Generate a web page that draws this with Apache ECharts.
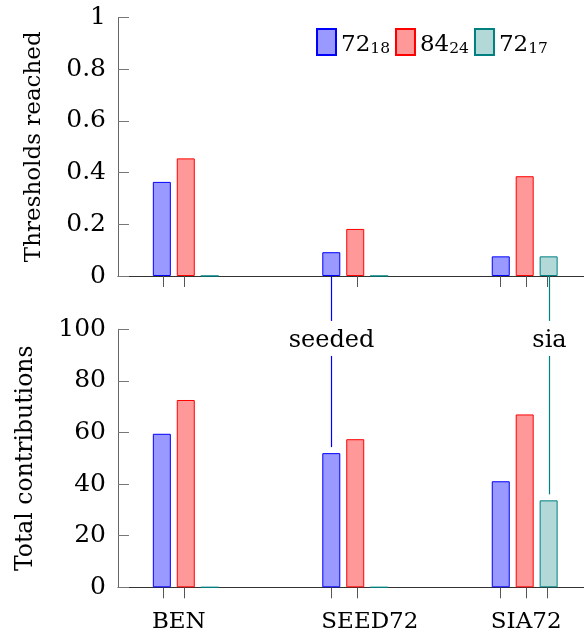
<!DOCTYPE html>
<html>
<head>
<meta charset="utf-8">
<script src="https://cdn.jsdelivr.net/npm/echarts@6/dist/echarts.min.js"></script>
<style>
html,body{margin:0;padding:0;background:#fff;}
#main{width:584px;height:634px;}
</style>
</head>
<body>
<div id="main"></div>
<script>
// ---- data ----
const categories = ['BEN', 'SEED72', 'SIA72'];
const seriesNames = ['72_18', '84_24', '72_17'];
const thresholds72_18 = [0.364, 0.092, 0.076];
const thresholds84_24 = [0.455, 0.182, 0.386];
const thresholds72_17 = [0, 0, 0.076];
const contrib72_18 = [59.5, 52.0, 41.1];
const contrib84_24 = [72.6, 57.4, 67.0];
const contrib72_17 = [0, 0, 33.7];
const xTickValues = [-0.133, -0.011, 0.857, 1.009, 1.858, 2.008, 2.136];
const annotLabels = ['seeded', 'sia'];
const annotSeries = [0, 2];
const annotCategory = [1, 2];
const annotLevel = 95.5;

// ---- styles ----
const FONT = '"DejaVu Serif", serif';
const fills = ['#9999ff', '#ff9999', '#b2d8d8'];
const borders = ['#0000ff', '#ff0000', '#008080'];
const labelShift = -0.2;

const topData = [thresholds72_18, thresholds84_24, thresholds72_17];
const botData = [contrib72_18, contrib84_24, contrib72_17];

function mkSeries(values, i, gi) {
  return {
    type: 'bar',
    name: seriesNames[i],
    xAxisIndex: gi, yAxisIndex: gi,
    barWidth: 18, barGap: '33%',
    data: values.map((v, k) => [k, v]),
    itemStyle: {color: fills[i], borderColor: borders[i], borderWidth: 1},
    emphasis: {disabled: true},
    animation: false
  };
}

function xAxis(gi, showLabels) {
  return {
    type: 'value', gridIndex: gi, min: -0.4, max: 2.35,
    splitLine: {show: false},
    axisLine: {show: true, onZero: false, lineStyle: {color: '#333', width: 1}},
    axisTick: {show: true, inside: false, length: 11, customValues: xTickValues,
      lineStyle: {color: '#555', width: 1}},
    axisLabel: {show: showLabels, customValues: categories.map((c, k) => k + labelShift),
      formatter: v => categories[Math.round(v - labelShift)] || '',
      align: 'left', margin: 23, fontFamily: FONT, fontSize: 23, color: '#000'}
  };
}

function yAxis(gi, max, interval, name, gap, nameSize) {
  return {
    type: 'value', gridIndex: gi, min: 0, max: max, interval: interval,
    name: name, nameLocation: 'middle', nameGap: gap, nameRotate: 90,
    nameTextStyle: {fontFamily: FONT, fontSize: nameSize, color: '#000'},
    splitLine: {show: false},
    axisLine: {show: true, onZero: false, lineStyle: {color: '#666', width: 1}},
    axisTick: {show: true, inside: true, length: 11, lineStyle: {color: '#777', width: 1}},
    axisLabel: {margin: 12, fontFamily: FONT, fontSize: 25, color: '#000'}
  };
}

const chart = echarts.init(document.getElementById('main'), null, {renderer: 'canvas'});
const series = [];
topData.forEach((d, i) => series.push(mkSeries(d, i, 0)));
botData.forEach((d, i) => series.push(mkSeries(d, i, 1)));

chart.setOption({
  animation: false,
  backgroundColor: '#fff',
  grid: [
    {left: 118, right: 0, top: 17.5, height: 258.5},
    {left: 118, right: 0, top: 329.3, height: 258}
  ],
  legend: {
    data: seriesNames, left: 316, top: 28, padding: 0, itemWidth: 19, itemHeight: 26, itemGap: 5,
    icon: 'rect', selectedMode: false,
    formatter: n => { const p = n.split('_'); return '{m|' + p[0] + '}{s|' + p[1] + '}'; },
    textStyle: {fontFamily: FONT, fontSize: 23, color: '#000',
      rich: {
        m: {fontFamily: FONT, fontSize: 23, lineHeight: 30, verticalAlign: 'bottom', color: '#000'},
        s: {fontFamily: FONT, fontSize: 15.5, lineHeight: 14, verticalAlign: 'bottom', color: '#000'}
      }}
  },
  xAxis: [xAxis(0, false), xAxis(1, true)],
  yAxis: [yAxis(0, 1, 0.2, 'Thresholds reached', 72, 23), yAxis(1, 100, 20, 'Total contributions', 80, 23.5)],
  series: series
});

function addAnnotations() {
  const model = chart.getModel();
  const els = [];
  const topY = chart.convertToPixel({yAxisIndex: 0}, 0);
  const textY = chart.convertToPixel({yAxisIndex: 1}, annotLevel);
  annotLabels.forEach((lab, k) => {
    const s = model.getSeriesByIndex(annotSeries[k] + 3);
    const lay = s.getData().getItemLayout(annotCategory[k]);
    const cx = Math.round(lay.x + lay.width / 2) + 0.5;
    const barTop = Math.min(lay.y, lay.y + lay.height);
    const col = borders[annotSeries[k]];
    els.push({type: 'line', silent: true, z: 10, shape: {x1: cx, y1: topY, x2: cx, y2: textY - 20},
      style: {stroke: col, lineWidth: 1.2}});
    els.push({type: 'line', silent: true, z: 10, shape: {x1: cx, y1: textY + 15, x2: cx, y2: barTop - 6},
      style: {stroke: col, lineWidth: 1.2}});
    els.push({type: 'text', silent: true, z: 10, x: cx, y: textY,
      style: {text: lab, font: '24px ' + FONT, fill: '#000', align: 'center', verticalAlign: 'middle'}});
  });
  chart.setOption({graphic: els});
}
addAnnotations();
</script>
</body>
</html>
